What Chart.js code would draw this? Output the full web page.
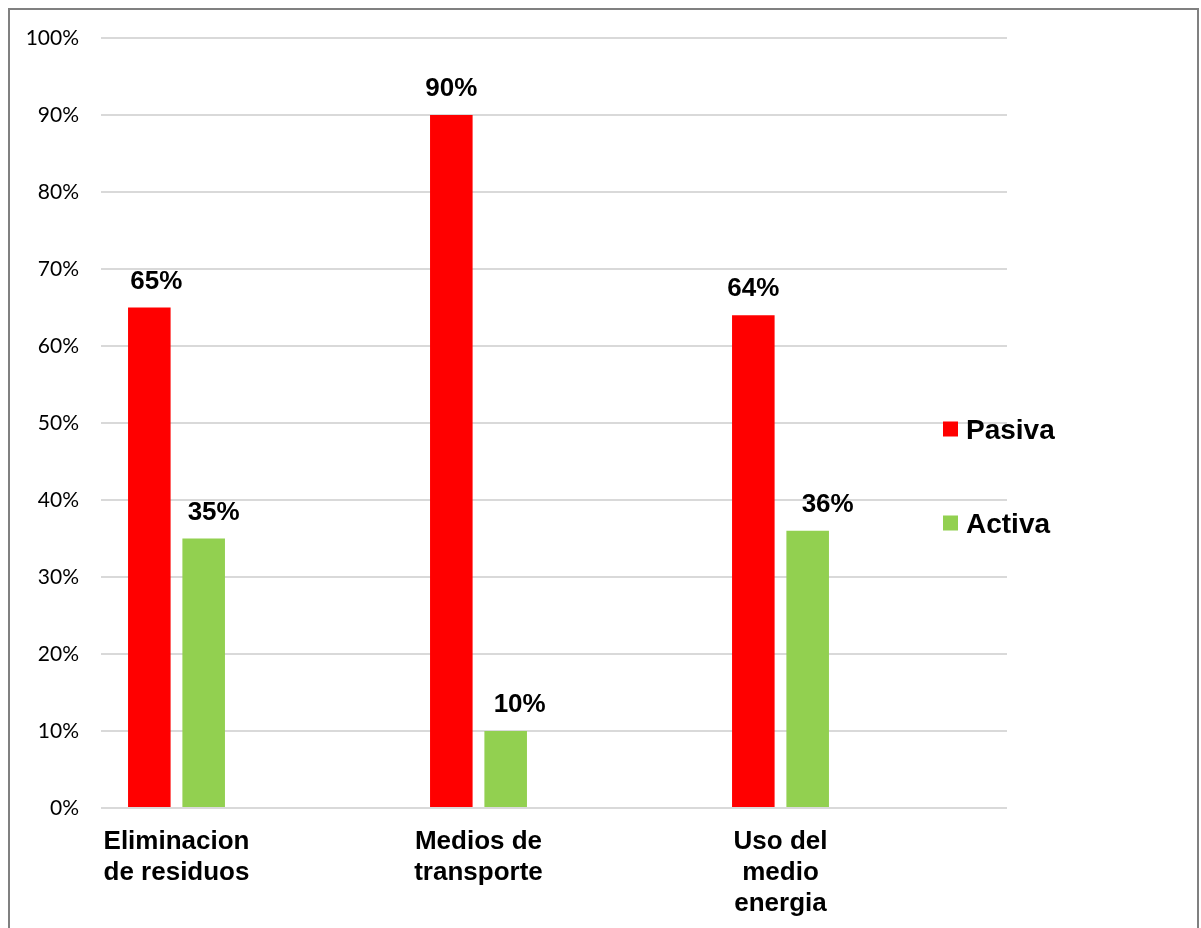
<!DOCTYPE html>
<html>
<head>
<meta charset="utf-8">
<script src="https://cdn.jsdelivr.net/npm/chart.js@4"></script>
<style>
  html, body { margin: 0; padding: 0; background: #fff; overflow: hidden; }
  #frame { position: absolute; left: 8px; top: 8px; width: 1187px; height: 940px; border: 2px solid #808080; }
  #myChart { position: absolute; left: 0; top: 0; }
</style>
</head>
<body>
<div id="frame"></div>
<canvas id="myChart" width="1201" height="928"></canvas>
<script>
"use strict"

// categorias (etiquetas en varias lineas)
const categories = [
  ["Eliminacion", "de residuos"],
  ["Medios de", "transporte"],
  ["Uso del", "medio", "energia"]
];
const seriesNames = ["Pasiva", "Activa"];
const pasiva = [65, 90, 64];
const activa = [35, 10, 36];
const yTicks = [0, 10, 20, 30, 40, 50, 60, 70, 80, 90, 100];

const colors = ["#FF0000", "#92D050"];
// pequeño desplazamiento horizontal de las etiquetas de valor (como en el original)
const labelNudge = [[7, 0, 0], [10, 14, 20]];

const boldFont = "'Liberation Sans', Arial, sans-serif";

/**
 * Dibuja el valor encima de cada barra
 */
const valueLabels = {
  id: 'valueLabels',
  afterDatasetsDraw(chart) {
    const ctx = chart.ctx;
    ctx.save();
    ctx.font = "bold 26px " + boldFont;
    ctx.fillStyle = "#000";
    ctx.textAlign = "center";
    ctx.textBaseline = "alphabetic";
    chart.data.datasets.forEach((ds, d) => {
      chart.getDatasetMeta(d).data.forEach((bar, i) => {
        ctx.fillText(ds.data[i].y + "%", bar.x + labelNudge[d][i], bar.y - 19);
      });
    });
    ctx.restore();
  }
};

/**
 * Leyenda a la derecha
 */
const sideLegend = {
  id: 'sideLegend',
  afterDraw(chart, args, opts) {
    const ctx = chart.ctx;
    ctx.save();
    ctx.font = "bold 28px " + boldFont;
    ctx.textAlign = "left";
    ctx.textBaseline = "alphabetic";
    chart.data.datasets.forEach((ds, d) => {
      const cy = opts.y[d];
      ctx.fillStyle = ds.backgroundColor;
      ctx.fillRect(opts.x, cy - 7.5, 15, 15);
      ctx.fillStyle = "#000";
      ctx.fillText(ds.label, opts.x + 23, cy + 10);
    });
    ctx.restore();
  }
};

const ctx = document.getElementById('myChart');

new Chart(ctx, {
  type: 'bar',
  data: {
    datasets: [
      {
        label: seriesNames[0],
        data: pasiva.map((v, i) => ({ x: i, y: v })),
        backgroundColor: colors[0]
      },
      {
        label: seriesNames[1],
        data: activa.map((v, i) => ({ x: i, y: v })),
        backgroundColor: colors[1]
      }
    ]
  },
  plugins: [valueLabels, sideLegend],
  options: {
    responsive: false,
    animation: false,
    devicePixelRatio: 1,
    categoryPercentage: 0.36,
    barPercentage: 0.783,
    layout: { padding: { top: 38, right: 194, bottom: 0, left: 0 } },
    plugins: {
      legend: { display: false },
      tooltip: { enabled: false },
      sideLegend: { x: 943, y: [429, 523] }
    },
    scales: {
      x: {
        type: 'linear',
        offset: false,
        min: -0.25,
        max: 2.75,
        afterBuildTicks(scale) {
          scale.ticks = categories.map((c, i) => ({ value: i }));
        },
        afterFit(scale) { scale.height = 120; },
        grid: { display: false, drawTicks: false },
        border: { display: false },
        ticks: {
          autoSkip: false,
          maxRotation: 0,
          padding: 18,
          color: "#000",
          font: { family: boldFont, size: 26, weight: 'bold', lineHeight: 1.19 },
          callback: (v) => categories[v]
        }
      },
      y: {
        min: 0,
        max: 100,
        afterBuildTicks(scale) {
          scale.ticks = yTicks.map(v => ({ value: v }));
        },
        afterFit(scale) { scale.width = 101; },
        grid: { color: "#D9D9D9", lineWidth: 2, drawTicks: false },
        border: { display: false },
        ticks: {
          padding: 22,
          color: "#000",
          font: { family: "Lato, 'Open Sans', sans-serif", size: 21 },
          callback: (v) => v + "%"
        }
      }
    }
  }
});
</script>
</body>
</html>
